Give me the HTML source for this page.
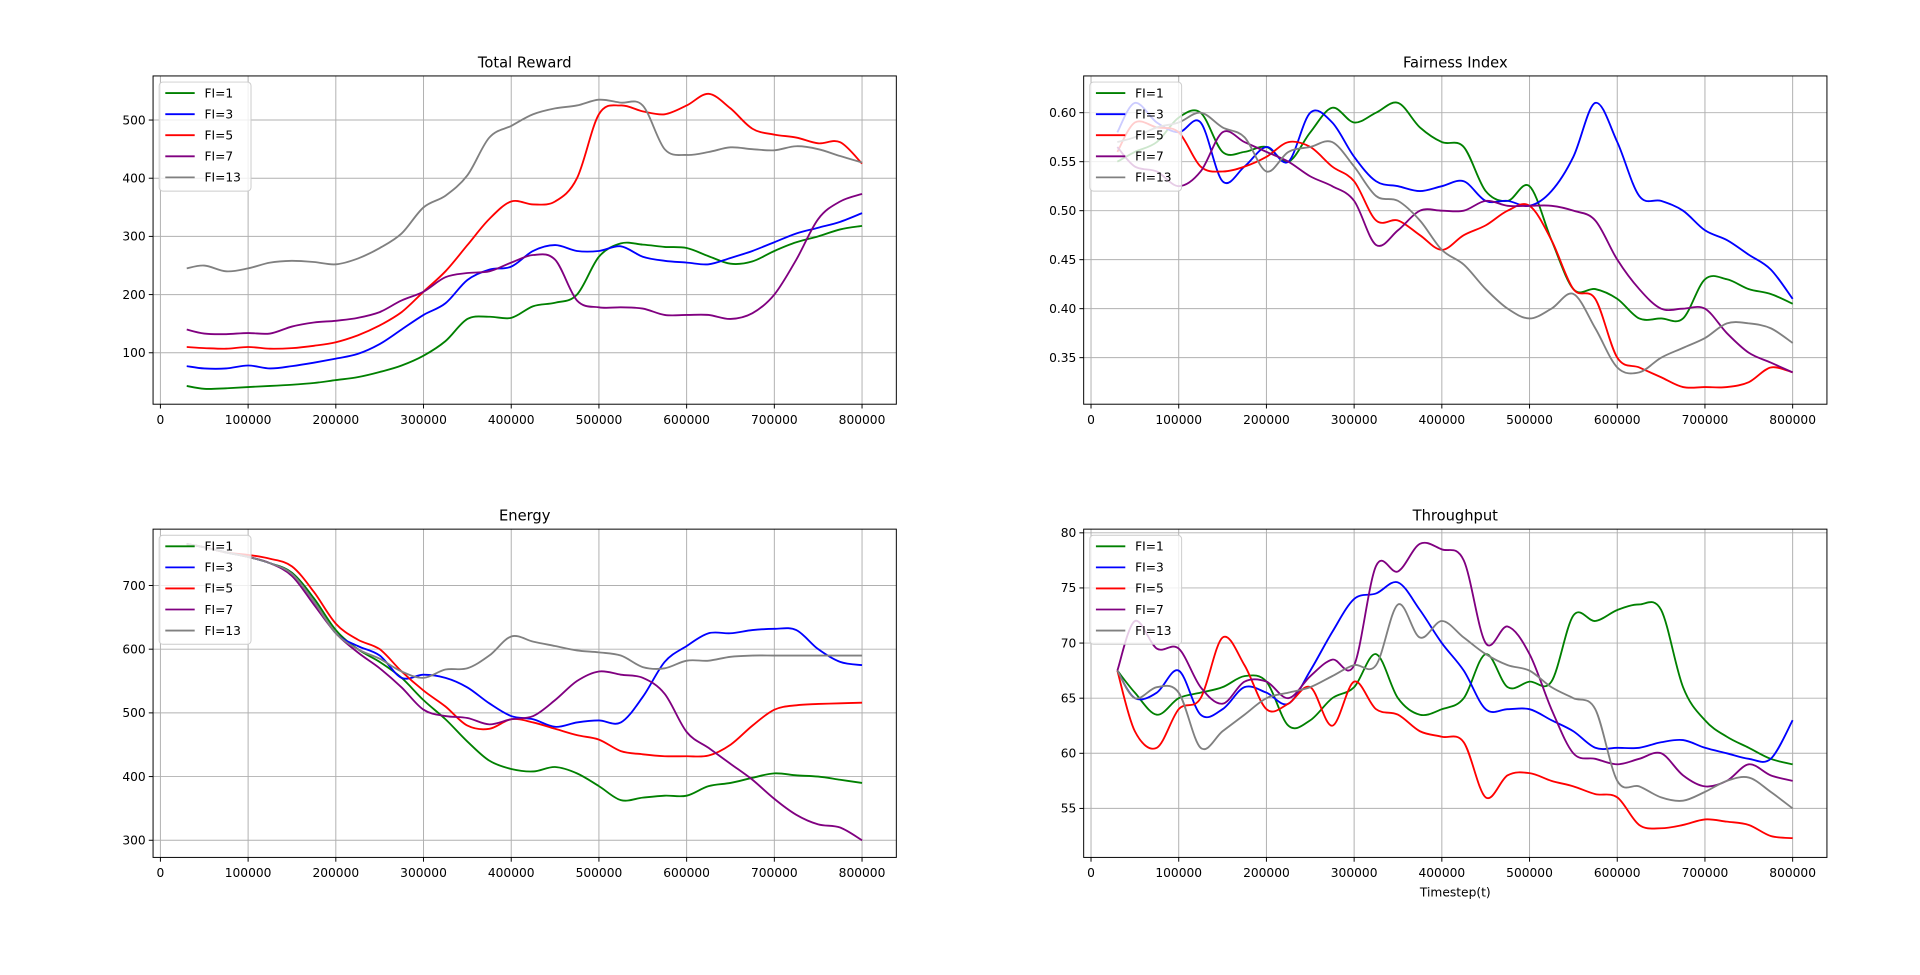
<!DOCTYPE html>
<html><head><meta charset="utf-8"><style>
html,body{margin:0;padding:0;background:#fff;}
svg{display:block;font-family:"DejaVu Sans","Liberation Sans",sans-serif;}
</style></head><body>
<svg id="fig" width="1920" height="975" viewBox="0 0 1568 796" preserveAspectRatio="none" xmlns="http://www.w3.org/2000/svg"></svg>
<script>
const xs=[30000,50000,75000,100000,125000,150000,175000,200000,225000,250000,275000,300000,325000,350000,375000,400000,425000,450000,475000,500000,525000,550000,575000,600000,625000,650000,675000,700000,725000,750000,775000,800000];
const seriesNames=["FI=1","FI=3","FI=5","FI=7","FI=13"];
const xTicks=[0,100000,200000,300000,400000,500000,600000,700000,800000];
const rewardFI1=[43,38,39,41,43,45,48,53,58,67,78,95,120,158,162,160,180,186,200,265,288,286,282,280,266,253,257,275,290,300,312,318];
const rewardFI3=[77,73,73,78,73,77,83,90,98,115,140,165,185,225,243,248,275,285,275,275,283,265,258,255,252,263,275,290,305,315,325,340];
const rewardFI5=[110,108,107,110,107,108,112,118,130,147,170,205,240,285,330,360,355,360,400,510,525,515,510,525,545,520,485,475,470,460,462,425];
const rewardFI7=[140,133,132,134,133,145,152,155,160,170,190,205,230,237,240,255,268,260,190,178,178,176,165,165,165,158,168,200,260,330,360,373];
const rewardFI13=[245,250,240,245,255,258,256,252,262,280,305,350,370,405,470,490,510,520,525,535,530,525,450,440,445,453,450,448,455,450,438,427];
const rewardTicks=[100,200,300,400,500];
const fairFI1=[0.55,0.56,0.57,0.595,0.60,0.56,0.56,0.565,0.55,0.58,0.605,0.59,0.60,0.61,0.585,0.57,0.565,0.52,0.51,0.525,0.47,0.42,0.42,0.41,0.39,0.39,0.39,0.43,0.43,0.42,0.415,0.405];
const fairFI3=[0.58,0.61,0.59,0.58,0.59,0.53,0.545,0.565,0.55,0.60,0.59,0.555,0.53,0.525,0.52,0.525,0.53,0.51,0.51,0.505,0.52,0.555,0.61,0.57,0.515,0.51,0.50,0.48,0.47,0.455,0.44,0.41];
const fairFI5=[0.56,0.59,0.585,0.58,0.545,0.54,0.545,0.555,0.57,0.565,0.545,0.53,0.49,0.49,0.475,0.46,0.475,0.485,0.50,0.505,0.47,0.42,0.41,0.35,0.34,0.33,0.32,0.32,0.32,0.325,0.34,0.335];
const fairFI7=[0.565,0.545,0.54,0.525,0.54,0.58,0.57,0.56,0.55,0.535,0.525,0.51,0.465,0.48,0.50,0.50,0.50,0.51,0.505,0.505,0.505,0.50,0.49,0.45,0.42,0.40,0.40,0.40,0.375,0.355,0.345,0.335];
const fairFI13=[0.57,0.575,0.585,0.59,0.60,0.585,0.575,0.54,0.56,0.565,0.57,0.545,0.515,0.51,0.49,0.46,0.445,0.42,0.40,0.39,0.40,0.415,0.38,0.34,0.335,0.35,0.36,0.37,0.385,0.385,0.38,0.365];
const fairTicks=[0.35,0.40,0.45,0.50,0.55,0.60];
const energyFI1=[765,760,752,745,735,720,680,630,600,580,555,520,490,455,425,412,408,415,405,385,363,367,370,370,385,390,398,405,402,400,395,390];
const energyFI3=[765,760,752,745,735,718,675,625,605,590,555,560,555,540,515,495,490,478,485,488,485,525,580,605,625,625,630,632,630,600,580,575];
const energyFI5=[765,760,752,748,742,730,690,640,615,600,565,535,510,480,475,490,485,475,465,458,440,435,432,432,433,450,480,505,512,514,515,516];
const energyFI7=[765,760,752,745,735,715,670,625,595,570,540,505,495,492,482,490,495,520,550,565,560,555,530,470,445,420,395,365,340,325,320,300];
const energyFI13=[765,760,752,745,735,718,675,625,600,585,565,555,568,570,590,620,612,605,598,595,590,572,570,582,582,588,590,590,590,590,590,590];
const energyTicks=[300,400,500,600,700];
const thrFI1=[67.5,65.5,63.5,65,65.5,66,67,66.5,62.5,63,65,66,69,65,63.5,64,65,69,66,66.5,66.5,72.5,72,73,73.5,73,66,63,61.5,60.5,59.5,59];
const thrFI3=[67.5,65,65.5,67.5,63.5,64,66,65.5,64.5,67.5,71,74,74.5,75.5,73,70,67.5,64,64,64,63,62,60.5,60.5,60.5,61,61.2,60.5,60,59.5,59.5,63];
const thrFI5=[67.5,62,60.5,64,65,70.5,68,64,64.5,66,62.5,66.5,64,63.5,62,61.5,61,56,58,58.2,57.5,57,56.3,56,53.5,53.2,53.5,54,53.8,53.5,52.5,52.3];
const thrFI7=[67.5,72,69.5,69.5,66,64.5,66.5,66.5,65,67,68.5,68,77,76.5,79,78.5,77.5,70,71.5,69,64,60,59.5,59,59.5,60,58,57,57.5,59,58,57.5];
const thrFI13=[67.5,65,66,65.5,60.5,62,63.5,65,65.5,66,67,68,68,73.5,70.5,72,70.5,69,68,67.5,66,65,64,57.5,57,56,55.7,56.5,57.5,57.8,56.5,55];
const thrTicks=[55,60,65,70,75,80];
const colors=["green","blue","red","purple","gray"];

const NS="http://www.w3.org/2000/svg";
const fig=document.getElementById('fig');
function mk(tag,attrs,parent){const e=document.createElementNS(NS,tag);for(const k in attrs)e.setAttribute(k,attrs[k]);(parent||fig).appendChild(e);return e;}
function smooth(P){
 let d='M'+P[0][0].toFixed(1)+','+P[0][1].toFixed(1);
 for(let i=0;i<P.length-1;i++){
  const p0=P[i-1]||P[i],p1=P[i],p2=P[i+1],p3=P[i+2]||P[i+1];
  const c1=[p1[0]+(p2[0]-p0[0])/6,p1[1]+(p2[1]-p0[1])/6];
  const c2=[p2[0]-(p3[0]-p1[0])/6,p2[1]-(p3[1]-p1[1])/6];
  d+=' C'+c1[0].toFixed(1)+','+c1[1].toFixed(1)+' '+c2[0].toFixed(1)+','+c2[1].toFixed(1)+' '+p2[0].toFixed(1)+','+p2[1].toFixed(1);
 }
 return d;
}

const panels=[
 {name:"total-reward",title:"Total Reward",L:125,R:732,T:62,B:330,x0:131,x1:704,ya:100,yaPx:288,yb:500,ybPx:98,data:[rewardFI1,rewardFI3,rewardFI5,rewardFI7,rewardFI13],ticks:rewardTicks,fmt:v=>String(v)},
 {name:"fairness-index",title:"Fairness Index",L:885,R:1492,T:62,B:330,x0:891,x1:1464,ya:0.35,yaPx:292,yb:0.60,ybPx:92,data:[fairFI1,fairFI3,fairFI5,fairFI7,fairFI13],ticks:fairTicks,fmt:v=>v.toFixed(2)},
 {name:"energy",title:"Energy",L:125,R:732,T:432,B:700,x0:131,x1:704,ya:300,yaPx:686,yb:700,ybPx:478,data:[energyFI1,energyFI3,energyFI5,energyFI7,energyFI13],ticks:energyTicks,fmt:v=>String(v)},
 {name:"throughput",title:"Throughput",L:885,R:1492,T:432,B:700,x0:891,x1:1464,ya:55,yaPx:660,yb:80,ybPx:435,data:[thrFI1,thrFI3,thrFI5,thrFI7,thrFI13],ticks:thrTicks,fmt:v=>String(v),xlabel:"Timestep(t)"}
];

panels.forEach(p=>{
 const g=mk('g',{});
 
 
 const X=v=>p.x0+(v/800000)*(p.x1-p.x0);
 const Y=v=>p.yaPx+(v-p.ya)*(p.ybPx-p.yaPx)/(p.yb-p.ya);
 xTicks.forEach(t=>{
  const l=mk('line',{x1:X(t),x2:X(t),y1:p.T,y2:p.B,stroke:'#b0b0b0','stroke-width':0.8},g);
  
  
  mk('line',{x1:X(t),x2:X(t),y1:p.B,y2:p.B+3.5,stroke:'#000','stroke-width':0.8},g);
  const tx=mk('text',{x:X(t),y:p.B+16,'font-size':10,'text-anchor':'middle',fill:'#000'},g);
  tx.textContent=t;
  
  
 });
 p.ticks.forEach(t=>{
  const l=mk('line',{x1:p.L,x2:p.R,y1:Y(t),y2:Y(t),stroke:'#b0b0b0','stroke-width':0.8},g);
  
  
  mk('line',{x1:p.L-3.5,x2:p.L,y1:Y(t),y2:Y(t),stroke:'#000','stroke-width':0.8},g);
  const tx=mk('text',{x:p.L-6,y:Y(t)+3.5,'font-size':10,'text-anchor':'end',fill:'#000'},g);
  tx.textContent=p.fmt(t);
  
  
 });
 p.data.forEach((arr,i)=>{
  const P=arr.map((v,j)=>[X(xs[j]),Y(v)]);
  const pl=mk('path',{d:smooth(P),fill:'none',stroke:colors[i],'stroke-width':1.5,'stroke-linejoin':'round'},g);
  
  
 });
 const fr=mk('rect',{x:p.L,y:p.T,width:p.R-p.L,height:p.B-p.T,fill:'none',stroke:'#000','stroke-width':0.8},g);
 
 
 const ti=mk('text',{x:(p.L+p.R)/2,y:p.T-7,'font-size':12,'text-anchor':'middle',fill:'#000'},g);
 ti.textContent=p.title;
 
 
 if(p.xlabel){
  const xl=mk('text',{x:(p.L+p.R)/2,y:p.B+32,'font-size':10,'text-anchor':'middle',fill:'#000'},g);
  xl.textContent=p.xlabel;
  
  
 }
 const lg=mk('g',{},g);
 
 
 mk('rect',{x:p.L+5,y:p.T+5,width:75,height:89,rx:3,fill:'#fff','fill-opacity':0.8,stroke:'#ccc','stroke-width':0.8},lg);
 seriesNames.forEach((n,i)=>{
  const yy=p.T+14+i*17.2;
  const e=mk('g',{},lg);
  
  
  mk('line',{x1:p.L+10,x2:p.L+34,y1:yy,y2:yy,stroke:colors[i],'stroke-width':1.5},e);
  const t=mk('text',{x:p.L+42,y:yy+3.5,'font-size':10,fill:'#000'},e);
  t.textContent=n;
 });
});
</script>
</body></html>
